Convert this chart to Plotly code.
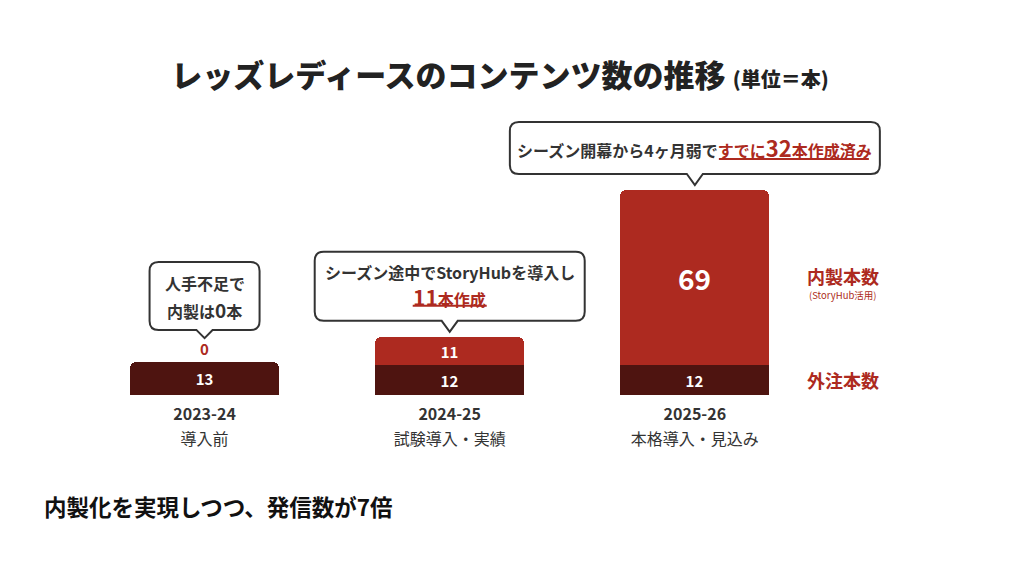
import plotly.graph_objects as go

SEASONS = ["2023-24", "2024-25", "2025-26"]
PHASES = ["導入前", "試験導入・実績", "本格導入・見込み"]
OUTSOURCED = [13, 12, 12]
IN_HOUSE = [0, 11, 69]

CALLOUT_LINES = [
    ["人手不足で", "内製は<span style='font-size:19px'>0</span>本"],
    ["シーズン途中でStoryHubを導入し",
     "<span style='color:#AD2A20'><span style='font-size:21px'>11</span>本作成</span>"],
    ["シーズン開幕から4ヶ月弱で"
     "<span style='color:#AD2A20'>すでに<span style='font-size:22px'>32</span>本作成済み</span>"],
]

RED = "#AD2A20"
DARK = "#4E1410"
INK = "#333333"
FONT = "Noto Sans CJK JP"

# callout geometry in px relative to the pointer tip: half width, box bottom, box top, tip gap above bar
CALLOUT_BOX = [(55, 8, 76, 24), (135, 11, 80, 5), (185, 11, 63, 5)]
# text line centres, px above the tip
LINE_OFFSETS = [[55, 29], [60, 35], [38]]
# underline under the red part: x0, x1, y (px, relative to tip)
UNDERLINES = [None, (-37, 37, 26), (24, 174, 26)]


def bubble_path(w, b, t, gap, r=9, pw=8):
    b, t = b + gap, t + gap
    return (
        f"M {-pw},{b} L 0,{gap} L {pw},{b} L {w - r},{b} Q {w},{b} {w},{b + r} "
        f"L {w},{t - r} Q {w},{t} {w - r},{t} L {-w + r},{t} Q {-w},{t} {-w},{t - r} "
        f"L {-w},{b + r} Q {-w},{b} {-w + r},{b} Z"
    )


xs = list(range(len(SEASONS)))
totals = [a + b for a, b in zip(OUTSOURCED, IN_HOUSE)]

fig = go.Figure()
fig.add_trace(go.Bar(
    x=xs, y=OUTSOURCED, width=0.608, marker=dict(color=DARK, cornerradius=6, line_width=0),
    text=[str(v) for v in OUTSOURCED], textposition="inside", insidetextanchor="middle",
    textangle=0, insidetextfont=dict(color="white", size=15, family=FONT, weight="bold"),
    hoverinfo="skip",
))
fig.add_trace(go.Bar(
    x=xs, y=IN_HOUSE, width=0.608, marker=dict(color=RED, line_width=0),
    text=[str(v) for v in IN_HOUSE],
    textposition=["outside" if v == 0 else "inside" for v in IN_HOUSE],
    insidetextanchor="middle", textangle=0, cliponaxis=False,
    insidetextfont=dict(color="white", size=[15 if v < 30 else 28 for v in IN_HOUSE],
                        family=FONT, weight="bold"),
    outsidetextfont=dict(color=RED, size=15, family=FONT, weight="bold"),
    hoverinfo="skip",
))

shapes = []
annotations = []
for i, (lines, (w, b, t, gap)) in enumerate(zip(CALLOUT_LINES, CALLOUT_BOX)):
    shapes.append(dict(
        type="path", xref="x", yref="y", xsizemode="pixel", ysizemode="pixel",
        xanchor=i, yanchor=totals[i], path=bubble_path(w, b, t, gap),
        line=dict(color=INK, width=2), fillcolor="white", layer="above",
    ))
    for line, off in zip(lines, LINE_OFFSETS[i]):
        annotations.append(dict(
            x=i, y=totals[i], xref="x", yref="y", text=line, showarrow=False,
            yshift=gap + off, yanchor="middle", align="center",
            font=dict(family=FONT, size=16, color=INK, weight="bold"),
        ))
    if UNDERLINES[i]:
        x0, x1, uy = UNDERLINES[i]
        shapes.append(dict(
            type="path", xref="x", yref="y", xsizemode="pixel", ysizemode="pixel",
            xanchor=i, yanchor=totals[i], path=f"M {x0},{uy + gap} L {x1},{uy + gap}",
            line=dict(color=RED, width=2), layer="above",
        ))

# legend-like labels beside the last bar
last = len(SEASONS) - 1
annotations += [
    dict(x=last, y=OUTSOURCED[last] + IN_HOUSE[last] / 2, xref="x", yref="y", xshift=148, yshift=1,
         text="内製本数", showarrow=False, font=dict(family=FONT, size=18, color=RED, weight="bold")),
    dict(x=last, y=OUTSOURCED[last] + IN_HOUSE[last] / 2, xref="x", yref="y", xshift=148, yshift=-18,
         text="(StoryHub活用)", showarrow=False, font=dict(family=FONT, size=9.5, color=RED)),
    dict(x=last, y=OUTSOURCED[last] / 2, xref="x", yref="y", xshift=148,
         text="外注本数", showarrow=False, font=dict(family=FONT, size=18, color=RED, weight="bold")),
    dict(x=0, y=0, xref="paper", yref="paper", xanchor="left", yanchor="middle",
         xshift=-40, yshift=-111, text="内製化を実現しつつ、発信数が7倍", showarrow=False,
         font=dict(family=FONT, size=22.5, color="#111111", weight="bold")),
]

ticktext = [
    f"<span style='font-size:16px;font-weight:bold'>{s}</span><br>"
    f"<span style='font-size:16px'>{p}</span>"
    for s, p in zip(SEASONS, PHASES)
]

fig.update_layout(
    width=1024, height=576,
    margin=dict(l=74, r=92, t=96, b=189),
    barmode="stack", bargap=0, showlegend=False,
    plot_bgcolor="white", paper_bgcolor="white",
    title=dict(
        text="レッズレディースのコンテンツ数の推移 "
             "<span style='font-size:20px'>(単位＝本)</span>",
        x=492 / 1024, xref="container", xanchor="center",
        y=1 - 68 / 576, yref="container", yanchor="middle",
        font=dict(family=FONT, size=31, color="#222222", weight=900),
    ),
    shapes=shapes, annotations=annotations,
    font=dict(family=FONT, color=INK),
)
fig.update_xaxes(range=[-0.5, 3.0], tickvals=xs, ticktext=ticktext, showgrid=False,
                 zeroline=False, showline=False, ticks="", ticklabelstandoff=5,
                 tickfont=dict(family=FONT, size=19, color=INK))
fig.update_yaxes(range=[0, 115], visible=False, showgrid=False, zeroline=False)

fig.write_html("out.html")
